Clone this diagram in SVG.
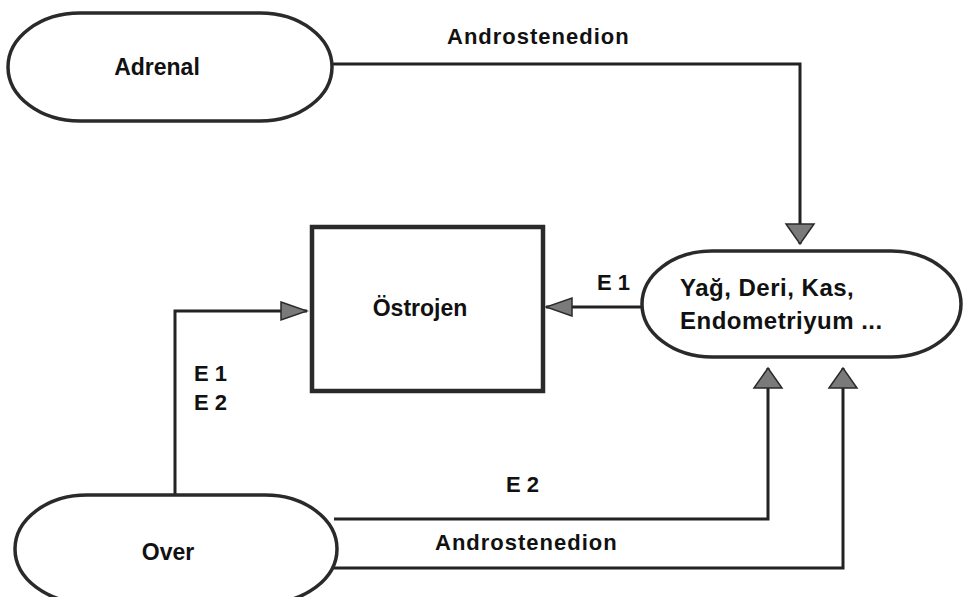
<svg xmlns="http://www.w3.org/2000/svg" width="963" height="597" viewBox="0 0 963 597">
  <style>
    .node { fill: #ffffff; stroke: #2a2a2a; stroke-width: 3.5; }
    .box { fill: #ffffff; stroke: #2a2a2a; stroke-width: 4.5; }
    .conn { fill: none; stroke: #222222; stroke-width: 3; }
    .lbl { font-family: "Liberation Sans", Arial, sans-serif; font-weight: bold; font-size: 23px; fill: #111111; }
    .big { font-size: 24px; letter-spacing: 0.5px; }
    .edge { font-family: "Liberation Sans", Arial, sans-serif; font-weight: bold; font-size: 22px; fill: #111111; letter-spacing: 1px; }
    .e { font-family: "Liberation Sans", Arial, sans-serif; font-size: 22px; fill: #111111; font-weight: bold; }
  </style>
  <defs>
    <marker id="arrV" markerUnits="userSpaceOnUse" markerWidth="24" markerHeight="32" viewBox="0 0 24 32" refX="22" refY="16" orient="auto">
      <path d="M2,2 L22,16 L2,30 Z" fill="#7a7a7a" stroke="#2a2a2a" stroke-width="1.5"/>
    </marker>
    <marker id="arrH" markerUnits="userSpaceOnUse" markerWidth="30" markerHeight="22" viewBox="0 0 30 22" refX="28" refY="11" orient="auto">
      <path d="M2,2 L28,11 L2,20 Z" fill="#7a7a7a" stroke="#2a2a2a" stroke-width="1.5"/>
    </marker>
  </defs>
  <rect width="963" height="597" fill="#ffffff"/>

  <g id="connectors">
    <path class="conn" d="M332,64 H800 V244" marker-end="url(#arrV)"/>
    <path class="conn" d="M175,495 V311 H307" marker-end="url(#arrH)"/>
    <path class="conn" d="M642,307 H546" marker-end="url(#arrH)"/>
    <path class="conn" d="M334,519 H768 V368" marker-end="url(#arrV)"/>
    <path class="conn" d="M332,568 H843 V368" marker-end="url(#arrV)"/>
  </g>

  <g id="adrenal">
    <rect class="node" x="8" y="13" width="324" height="108" rx="72" ry="54"/>
    <text class="lbl" x="157" y="75" text-anchor="middle">Adrenal</text>
  </g>

  <g id="ostrojen">
    <rect class="box" x="312" y="227" width="231" height="164"/>
    <text class="lbl" x="420" y="316" text-anchor="middle">Östrojen</text>
  </g>

  <g id="dokular">
    <rect class="node" x="642" y="251" width="319" height="106" rx="70" ry="53"/>
    <text class="lbl big" x="680" y="296">Yağ, Deri, Kas,</text>
    <text class="lbl big" x="680" y="329">Endometriyum ...</text>
  </g>

  <g id="over">
    <rect class="node" x="15" y="495" width="322" height="108" rx="72" ry="54"/>
    <text class="lbl" x="168" y="560" text-anchor="middle">Over</text>
  </g>

  <g id="labels">
    <text class="edge" x="447" y="44">Androstenedion</text>
    <text class="e" x="597" y="290">E 1</text>
    <text class="e" x="194" y="381">E 1</text>
    <text class="e" x="194" y="410">E 2</text>
    <text class="e" x="506" y="492">E 2</text>
    <text class="edge" x="435" y="550">Androstenedion</text>
  </g>
</svg>
